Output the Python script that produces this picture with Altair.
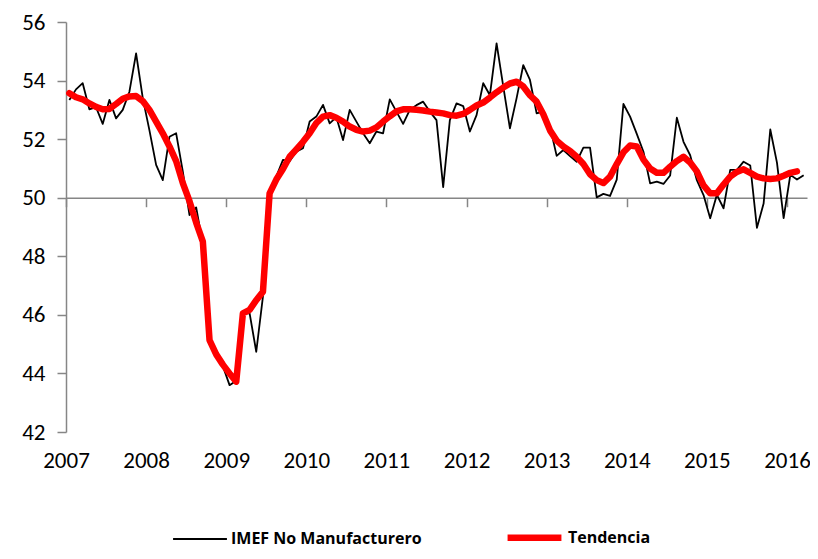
import altair as alt
import pandas as pd

# Monthly values, Jan 2007 .. Mar 2016
imef = [
    53.34, 53.70, 53.91, 53.02, 53.09, 52.52, 53.34, 52.71, 53.00, 53.62, 54.93, 53.40,  # 2007
    52.30, 51.12, 50.60, 52.08, 52.20, 50.89, 49.41, 49.67, 48.40, 45.20, 44.75, 44.25,  # 2008
    43.60, 43.75, 46.05, 46.06, 44.74, 46.62, 50.20, 50.72, 51.29, 51.25, 51.57, 51.69,  # 2009
    52.60, 52.77, 53.17, 52.54, 52.75, 51.97, 53.00, 52.60, 52.20, 51.86, 52.26, 52.20,  # 2010
    53.36, 52.94, 52.52, 53.00, 53.16, 53.28, 52.94, 52.65, 50.36, 52.65, 53.22, 53.13,  # 2011
    52.26, 52.82, 53.91, 53.50, 55.27, 53.80, 52.37, 53.40, 54.53, 54.02, 52.88, 52.94,  # 2012
    52.43, 51.43, 51.63, 51.42, 51.23, 51.71, 51.71, 50.01, 50.13, 50.06, 50.62, 53.20,  # 2013
    52.77, 52.18, 51.57, 50.49, 50.55, 50.47, 50.76, 52.73, 51.91, 51.45, 50.60, 50.09,  # 2014
    49.30, 50.10, 49.64, 50.95, 50.95, 51.23, 51.10, 48.97, 49.80, 52.33, 51.20, 49.30,  # 2015
    50.78, 50.62, 50.77,                                                                 # 2016
]

tendencia = [
    53.57, 53.43, 53.36, 53.22, 53.10, 53.02, 53.03, 53.20, 53.38, 53.46, 53.47, 53.30,
    53.00, 52.60, 52.20, 51.75, 51.25, 50.50, 49.88, 49.15, 48.50, 45.14, 44.65, 44.30,
    44.00, 43.72, 46.05, 46.17, 46.50, 46.79, 50.15, 50.62, 50.98, 51.40, 51.65, 51.91,
    52.20, 52.55, 52.77, 52.82, 52.73, 52.60, 52.43, 52.32, 52.26, 52.29, 52.40, 52.60,
    52.78, 52.95, 53.02, 53.02, 53.00, 52.98, 52.94, 52.91, 52.88, 52.82, 52.80, 52.86,
    53.00, 53.15, 53.25, 53.42, 53.60, 53.76, 53.90, 53.96, 53.80, 53.50, 53.28, 52.85,
    52.30, 51.95, 51.75, 51.60, 51.40, 51.15, 50.80, 50.60, 50.50, 50.72, 51.15, 51.55,
    51.78, 51.75, 51.30, 51.00, 50.85, 50.85, 51.06, 51.25, 51.40, 51.20, 50.90, 50.42,
    50.15, 50.15, 50.45, 50.72, 50.88, 50.97, 50.85, 50.72, 50.66, 50.64, 50.66, 50.75,
    50.85, 50.90,
]

years = list(range(2007, 2017))
y_ticks = [42, 44, 46, 48, 50, 52, 54, 56]
series = ["IMEF No Manufacturero", "Tendencia"]

def frame(values, name):
    return pd.DataFrame({
        "x": [2007 + (i + 0.5) / 12 for i in range(len(values))],
        "valor": values,
        "serie": name,
    })

df_imef = frame(imef, series[0])
df_tend = frame(tendencia, series[1])

FONT = "Carlito, Lato, sans-serif"
LEGEND_FONT = "Open Sans, sans-serif"
W, H = 741, 410
y_lo, y_hi = 42, 56
offset_50 = -(H * (50 - y_lo) / (y_hi - y_lo))

x_enc = alt.X(
    "x:Q",
    scale=alt.Scale(domain=[2007, 2007 + 111 / 12], nice=False, zero=False),
    axis=alt.Axis(
        values=years, format="d", title=None, grid=False,
        offset=offset_50, domainColor="#868686", domainWidth=1.5,
        tickColor="#868686", tickSize=9, tickWidth=1.5,
        labelPadding=243, labelFont=FONT, labelFontSize=23, labelColor="black",
        labelFlush=False, labelOverlap=False,
    ),
)
y_enc = alt.Y(
    "valor:Q",
    scale=alt.Scale(domain=[y_lo, y_hi], nice=False, zero=False),
    axis=alt.Axis(
        values=y_ticks, title=None, grid=False,
        domainColor="#868686", domainWidth=1.5,
        tickColor="#868686", tickSize=9, tickWidth=1.5,
        labelPadding=12, labelFont=FONT, labelFontSize=23, labelColor="black",
    ),
)
legend = alt.Legend(
    title=None, orient="none", direction="horizontal",
    legendX=106, legendY=485, symbolType="stroke", symbolSize=2900,
    labelFont=LEGEND_FONT, labelFontSize=16, labelFontWeight="bold", labelColor="black",
    labelOffset=3, labelLimit=400, columnPadding=72, padding=0,
)
color = alt.Color("serie:N", scale=alt.Scale(domain=series, range=["#000000", "#ff0000"]), legend=legend)
width = alt.StrokeWidth("serie:N", scale=alt.Scale(domain=series, range=[1.8, 6.5]), legend=legend)

black = alt.Chart(df_imef).mark_line(strokeJoin="round").encode(x=x_enc, y=y_enc, color=color, strokeWidth=width)
red = alt.Chart(df_tend).mark_line(strokeJoin="round", strokeCap="round").encode(x=x_enc, y=y_enc, color=color, strokeWidth=width)

chart = alt.layer(black, red).properties(
    width=W, height=H,
    autosize=alt.AutoSizeParams(type="none"),
    padding={"left": 58, "top": 14, "right": 3, "bottom": 119},
).configure_view(stroke=None)

chart.save("out.html", embed_options={"renderer": "svg", "actions": False})
